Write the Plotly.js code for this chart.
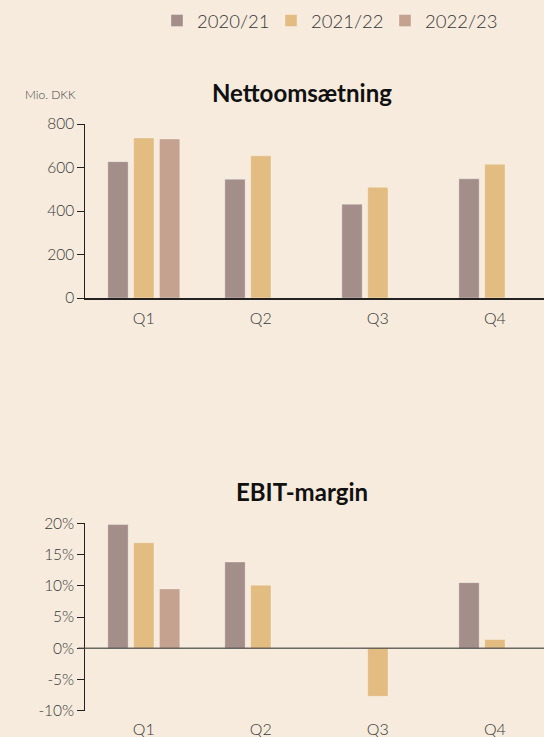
<!DOCTYPE html>
<html>
<head>
<meta charset="utf-8">
<script src="https://cdn.plot.ly/plotly-3.0.1.min.js"></script>
<style>html,body{margin:0;padding:0;background:#f6ebdc;}#chart{width:544px;height:737px;}</style>
</head>
<body>
<div id="chart"></div>
<script>
// Data
const quarters = ['Q1', 'Q2', 'Q3', 'Q4'];
const seriesNames = ['2020/21', '2021/22', '2022/23'];
const revenue2021 = [627, 546, 431, 548];
const revenue2122 = [736, 654, 509, 615];
const revenue2223 = [731, null, null, null];
const ebit2021 = [19.8, 13.8, 0, 10.5];
const ebit2122 = [16.9, 10.1, -7.7, 1.4];
const ebit2223 = [9.5, null, null, null];
const revenueTicks = [0, 200, 400, 600, 800];
const ebitTicks = [-10, -5, 0, 5, 10, 15, 20];
const ebitTickText = ['-10%', '-5%', '0%', '5%', '10%', '15%', '20%'];

const colors = ['#a48e8a', '#e3bc82', '#c4a28f'];
const FONT = 'Lato, "Noto Sans", sans-serif';
const W = 544, H = 737;
const px = v => v / W;
const py = v => 1 - v / H;

const revSeries = [revenue2021, revenue2122, revenue2223];
const ebitSeries = [ebit2021, ebit2122, ebit2223];
const traces = [];
seriesNames.forEach((name, i) => {
  traces.push({
    type: 'bar', name: name, x: quarters, y: revSeries[i],
    xaxis: 'x', yaxis: 'y', legendgroup: name,
    marker: {color: colors[i], line: {color: 'rgba(255,255,255,0.3)', width: 1}},
    hoverinfo: 'skip'
  });
});
seriesNames.forEach((name, i) => {
  traces.push({
    type: 'bar', name: name, x: quarters, y: ebitSeries[i],
    xaxis: 'x2', yaxis: 'y2', legendgroup: name, showlegend: false,
    marker: {color: colors[i], line: {color: 'rgba(255,255,255,0.3)', width: 1}},
    hoverinfo: 'skip'
  });
});

const xDomain = [px(85.3), 1];
const xRange = [-0.5, 3.42];
const tickFont = {family: FONT, size: 15.5, color: '#383838', weight: 300};
const catFont = {family: FONT, size: 16, color: '#383838', weight: 300};

const layout = {
  width: W, height: H,
  margin: {l: 0, r: 0, t: 0, b: 0},
  paper_bgcolor: '#f6ebdc', plot_bgcolor: '#f6ebdc',
  font: {family: FONT, color: '#383838'},
  barmode: 'group', bargap: 0.338, bargroupgap: 0.213,
  showlegend: true,
  legend: {
    orientation: 'h', x: px(157), xanchor: 'left', y: py(21), yanchor: 'middle',
    font: {family: FONT, size: 18.5, color: '#383838', weight: 300},
    entrywidth: 69,
    bgcolor: 'rgba(0,0,0,0)', itemclick: false, itemdoubleclick: false
  },
  xaxis: {
    domain: xDomain, anchor: 'y', range: xRange, type: 'category',
    showline: true, linecolor: '#222', linewidth: 1.5, ticks: '', showgrid: false, zeroline: false,
    tickfont: catFont, ticklabelstandoff: 5
  },
  yaxis: {
    domain: [py(298), py(124)], anchor: 'x', range: [0, 800],
    tickvals: revenueTicks, showgrid: false, zeroline: false,
    showline: true, linecolor: '#222', linewidth: 1, ticks: 'outside', ticklen: 7, tickcolor: '#222',
    tickfont: tickFont
  },
  xaxis2: {
    domain: xDomain, anchor: 'y2', range: xRange, type: 'category',
    showline: false, ticks: '', showgrid: false, zeroline: false,
    tickfont: catFont, ticklabelstandoff: 7
  },
  yaxis2: {
    domain: [py(710.7), py(523.3)], anchor: 'x2', range: [-10, 20],
    tickvals: ebitTicks, ticktext: ebitTickText, showgrid: false, zeroline: false,
    showline: true, linecolor: '#222', linewidth: 1, ticks: 'outside', ticklen: 7, tickcolor: '#222',
    tickfont: tickFont
  },
  shapes: [{
    type: 'line', xref: 'paper', yref: 'y2', x0: px(78), x1: 1, y0: 0, y1: 0,
    line: {color: 'rgba(75,70,66,0.8)', width: 1.5}, layer: 'above'
  }],
  annotations: [
    {text: '<b>Nettoomsætning</b>', xref: 'paper', yref: 'paper', x: px(302), y: py(93),
     xanchor: 'center', yanchor: 'middle', showarrow: false,
     font: {family: FONT, size: 24, color: '#111'}},
    {text: '<b>EBIT-margin</b>', xref: 'paper', yref: 'paper', x: px(302), y: py(492),
     xanchor: 'center', yanchor: 'middle', showarrow: false,
     font: {family: FONT, size: 24, color: '#111'}},
    {text: 'Mio. DKK', xref: 'paper', yref: 'paper', x: px(22.5), y: py(95),
     xanchor: 'left', yanchor: 'middle', showarrow: false,
     font: {family: FONT, size: 12, color: '#444', weight: 300}}
  ]
};

Plotly.newPlot('chart', traces, layout, {displayModeBar: false, staticPlot: true});
</script>
</body>
</html>
